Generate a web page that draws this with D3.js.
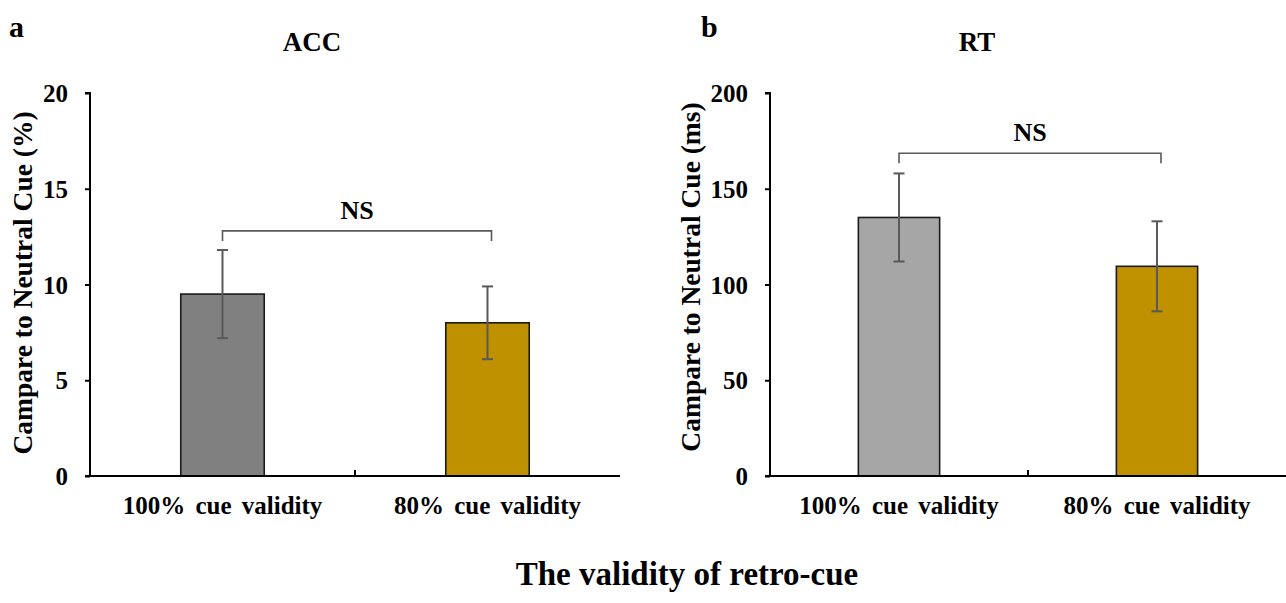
<!DOCTYPE html>
<html>
<head>
<meta charset="utf-8">
<script src="https://cdn.jsdelivr.net/npm/d3@7"></script>
<style>
  html, body { margin: 0; padding: 0; background: #fff; }
</style>
</head>
<body>
<svg id="chart" width="1286" height="603"></svg>
<script>
// ---- data ----
const categories = ["100% cue validity", "80% cue validity"];
const accValues = [9.5, 8.0];
const accErrors = [2.3, 1.9];
const rtValues = [135, 109.5];
const rtErrors = [23, 23.5];
const accTicks = [0, 5, 10, 15, 20];
const rtTicks = [0, 50, 100, 150, 200];
const accBracket = 12.8;
const rtBracket = 168.5;
const accColors = ["#808080", "#bf9000"];
const rtColors = ["#a6a6a6", "#bf9000"];

const FONT = '"Liberation Serif"';
const svg = d3.select("#chart");

function styleText(sel, size) {
  return sel.attr("font-family", FONT)
    .attr("font-weight", "bold")
    .attr("font-size", size).attr("fill", "#000");
}

function panel(opts) {
  const g = svg.append("g");
  const x = d3.scaleBand().domain(categories).range([opts.x0, opts.x1]).paddingInner(0).paddingOuter(0);
  const y = d3.scaleLinear().domain([opts.ticks[0], opts.ticks[opts.ticks.length - 1]]).range([opts.yBottom, opts.yTop]);
  const bw = x.bandwidth() * 0.315;

  // bars
  g.selectAll("rect.bar").data(opts.values).enter().append("rect")
    .attr("class", "bar")
    .attr("x", (d, i) => x(categories[i]) + x.bandwidth() / 2 - bw / 2)
    .attr("y", d => y(d))
    .attr("width", bw)
    .attr("height", d => y(0) - y(d))
    .attr("fill", (d, i) => opts.colors[i])
    .attr("stroke", "#1a1a1a")
    .attr("stroke-width", 1.6);

  // error bars
  const eb = g.selectAll("g.err").data(opts.values).enter().append("g").attr("class", "err")
    .attr("stroke", "#595959").attr("stroke-width", 2);
  eb.append("line")
    .attr("x1", (d, i) => x(categories[i]) + x.bandwidth() / 2)
    .attr("x2", (d, i) => x(categories[i]) + x.bandwidth() / 2)
    .attr("y1", (d, i) => y(d + opts.errors[i]))
    .attr("y2", (d, i) => y(d - opts.errors[i]));
  [1, -1].forEach(s => {
    eb.append("line")
      .attr("x1", (d, i) => x(categories[i]) + x.bandwidth() / 2 - 5.5)
      .attr("x2", (d, i) => x(categories[i]) + x.bandwidth() / 2 + 5.5)
      .attr("y1", (d, i) => y(d + s * opts.errors[i]))
      .attr("y2", (d, i) => y(d + s * opts.errors[i]));
  });

  // y axis
  const yAxis = d3.axisLeft(y).tickValues(opts.ticks).tickSize(5).tickPadding(17).tickFormat(d3.format("d"));
  const ya = g.append("g").attr("transform", `translate(${opts.x0},0)`).call(yAxis);
  ya.attr("font-family", FONT).attr("font-size", 25).attr("font-weight", "bold");
  ya.select(".domain").attr("stroke", "#000").attr("stroke-width", 2).attr("d", `M-5,${opts.yTop}H0V${opts.yBottom}`);
  ya.selectAll(".tick line").attr("stroke", "#000").attr("stroke-width", 2);
  styleText(ya.selectAll(".tick text"), 25).attr("dy", "0.34em");

  // x axis
  const xAxis = d3.axisBottom(x).tickSize(0).tickPadding(20);
  const xa = g.append("g").attr("transform", `translate(0,${opts.yBottom})`).call(xAxis);
  xa.attr("font-family", FONT).attr("font-size", 25).attr("font-weight", "bold");
  xa.select(".domain").attr("stroke", "#000").attr("stroke-width", 2).attr("d", `M${opts.x0 - 5},0H${opts.x1}`);
  styleText(xa.selectAll(".tick text"), 25).attr("word-spacing", 4).attr("dy", "0.71em");
  // middle divider tick
  g.append("line")
    .attr("x1", x(categories[1])).attr("x2", x(categories[1]))
    .attr("y1", opts.yBottom).attr("y2", opts.yBottom - 6)
    .attr("stroke", "#000").attr("stroke-width", 2);

  // significance bracket
  const bx1 = x(categories[0]) + x.bandwidth() / 2;
  const bx2 = x(categories[1]) + x.bandwidth() / 2 + 4;
  const by = y(opts.bracket);
  g.append("path")
    .attr("d", `M${bx1},${by + 10}V${by}H${bx2}V${by + 10}`)
    .attr("fill", "none").attr("stroke", "#595959").attr("stroke-width", 1.6);
  styleText(g.append("text"), 26)
    .attr("x", (bx1 + bx2) / 2).attr("y", by - 12)
    .attr("text-anchor", "middle").text("NS");

  // titles
  styleText(g.append("text"), 27).attr("x", opts.titleX).attr("y", 51).attr("text-anchor", "middle").text(opts.title);
  styleText(g.append("text"), 30).attr("x", opts.letterX).attr("y", 37).text(opts.letter);

  // y label
  styleText(g.append("text"), 27.5)
    .attr("transform", `translate(${opts.labelX},${opts.labelY}) rotate(-90)`)
    .attr("text-anchor", "middle").text(opts.yLabel);
}

panel({
  x0: 90, x1: 620, yTop: 93, yBottom: 476,
  ticks: accTicks, values: accValues, errors: accErrors, colors: accColors, bracket: accBracket,
  title: "ACC", titleX: 312, letter: "a", letterX: 9, yLabel: "Campare to Neutral Cue (%)", labelX: 32, labelY: 283
});
panel({
  x0: 770, x1: 1286, yTop: 93, yBottom: 476,
  ticks: rtTicks, values: rtValues, errors: rtErrors, colors: rtColors, bracket: rtBracket,
  title: "RT", titleX: 977, letter: "b", letterX: 701, yLabel: "Campare to Neutral Cue (ms)", labelX: 700, labelY: 277
});

styleText(svg.append("text"), 33).attr("x", 687).attr("y", 585).attr("text-anchor", "middle")
  .text("The validity of retro-cue");
</script>
</body>
</html>
